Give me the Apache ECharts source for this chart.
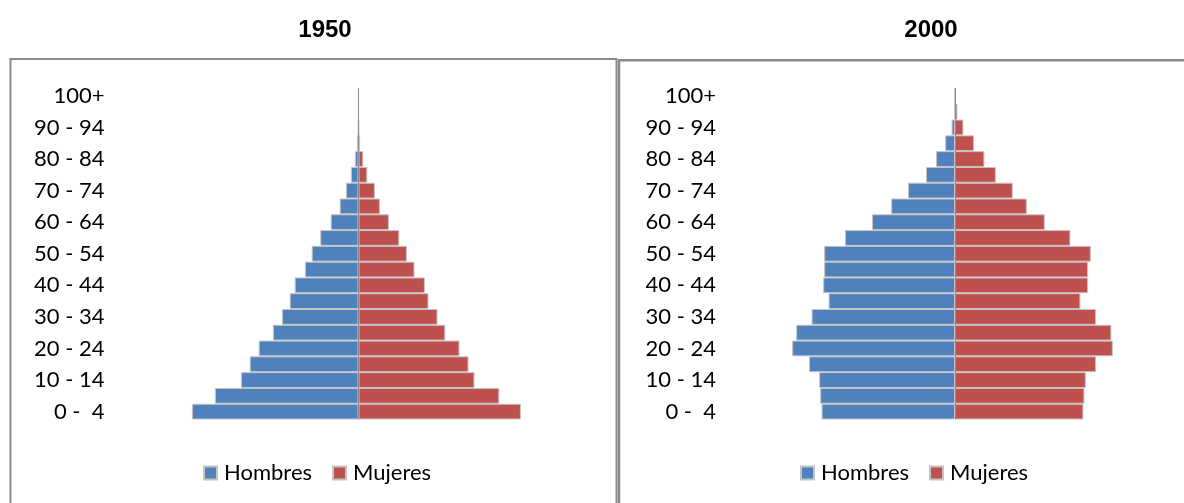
<!DOCTYPE html>
<html>
<head>
<meta charset="utf-8">
<script src="https://cdn.jsdelivr.net/npm/echarts@6/dist/echarts.min.js"></script>
<style>
html,body{margin:0;padding:0;background:#fff;}
#c{width:1184px;height:503px;}
</style>
</head>
<body>
<div id="c"></div>
<script>
// Age groups, bottom to top
const ageGroups = ['0 -  4','5 - 9','10 - 14','15 - 19','20 - 24','25 - 29','30 - 34','35 - 39','40 - 44','45 - 49','50 - 54','55 - 59','60 - 64','65 - 69','70 - 74','75 - 79','80 - 84','85 - 89','90 - 94','95 - 99','100+'];

// 1950 (relative units)
const men1950   = [83.3, 71.8, 58.8, 54.4, 49.9, 42.8, 38.3, 34.4, 31.9, 26.8, 23.4, 19.1, 13.9, 9.4, 6.3, 3.8, 1.8, 0.8, 0.2, 0, 0];
const women1950 = [81.2, 70.4, 58.0, 55.0, 50.5, 43.4, 39.5, 35.0, 33.2, 28.0, 24.2, 20.4, 15.2, 10.7, 8.2, 4.4, 2.4, 0.8, 0.2, 0, 0];

// 2000
const men2000   = [66.7, 67.4, 67.9, 73.0, 81.4, 79.4, 71.7, 63.2, 65.9, 65.4, 65.4, 55.0, 41.5, 31.9, 23.5, 14.5, 9.5, 4.9, 1.7, 0.5, 0];
const women2000 = [64.2, 64.7, 65.4, 70.5, 78.9, 78.2, 70.5, 62.7, 66.5, 66.5, 67.9, 57.7, 44.9, 35.9, 28.9, 20.4, 14.7, 9.5, 4.2, 1.2, 0];

const titles = ['1950', '2000'];
const seriesNames = ['Hombres', 'Mujeres'];

const BLUE = '#4F81BD', RED = '#C0504D', EDGE = '#c4c4c4', AXIS = '#8c8c8c';
const labelFont = 'Lato, "Open Sans", sans-serif';

function barSeries(name, data, idx, color, withLine) {
  const s = {
    name: name, type: 'bar', stack: 'p' + idx,
    xAxisIndex: idx, yAxisIndex: idx,
    data: data, barCategoryGap: '0%',
    itemStyle: { color: color, borderColor: EDGE, borderWidth: 1 },
    emphasis: { disabled: true }
  };
  if (withLine) {
    s.markLine = {
      silent: true, symbol: 'none', animation: false,
      label: { show: false },
      lineStyle: { color: AXIS, width: 1, type: 'solid' },
      data: [{ xAxis: 0 }]
    };
  }
  return s;
}

const chart = echarts.init(document.getElementById('c'), null, { renderer: 'canvas' });

const yAxisBase = (idx, margin) => ({
  type: 'category', gridIndex: idx, data: ageGroups,
  axisLine: { show: false, onZero: false }, axisTick: { show: false },
  splitLine: { show: false },
  axisLabel: { interval: 1, margin: margin, color: '#000', fontSize: 22, fontFamily: labelFont }
});
const xAxisBase = (idx) => ({
  type: 'value', gridIndex: idx, min: -100, max: 100,
  axisLine: { show: false }, axisTick: { show: false },
  axisLabel: { show: false }, splitLine: { show: false }
});
const legendBase = (left) => ({
  data: seriesNames, left: left, top: 462, padding: 0,
  itemWidth: 13, itemHeight: 13, itemGap: 20,
  icon: 'rect',
  textStyle: { fontSize: 22, fontFamily: labelFont, color: '#000', padding: [0, 0, 0, 2] }
});

chart.setOption({
  animation: false,
  backgroundColor: '#fff',
  grid: [
    { left: 158.5, width: 400, top: 88, height: 331.5 },
    { left: 755, width: 400, top: 88, height: 331.5 }
  ],
  xAxis: [xAxisBase(0), xAxisBase(1)],
  yAxis: [yAxisBase(0, 54), yAxisBase(1, 39)],
  legend: [legendBase(203), legendBase(800)],
  series: [
    barSeries(seriesNames[0], men1950.map(v => -v), 0, BLUE, false),
    barSeries(seriesNames[1], women1950, 0, RED, true),
    barSeries(seriesNames[0], men2000.map(v => -v), 1, BLUE, false),
    barSeries(seriesNames[1], women2000, 1, RED, true)
  ],
  graphic: [
    { type: 'rect', silent: true, z: -1,
      shape: { x: 10.5, y: 59, width: 606, height: 470 },
      style: { fill: 'none', stroke: '#8a8a8a', lineWidth: 2 } },
    { type: 'rect', silent: true, z: -1,
      shape: { x: 619, y: 60.3, width: 600, height: 470 },
      style: { fill: 'none', stroke: '#8a8a8a', lineWidth: 2.5 } },
    { type: 'text', silent: true, x: 325, y: 30,
      style: { text: titles[0], fill: '#000', font: 'bold 24px "Liberation Sans", Arial, sans-serif', textAlign: 'center', textVerticalAlign: 'middle' } },
    { type: 'text', silent: true, x: 931, y: 30,
      style: { text: titles[1], fill: '#000', font: 'bold 24px "Liberation Sans", Arial, sans-serif', textAlign: 'center', textVerticalAlign: 'middle' } }
  ]
});
</script>
</body>
</html>
